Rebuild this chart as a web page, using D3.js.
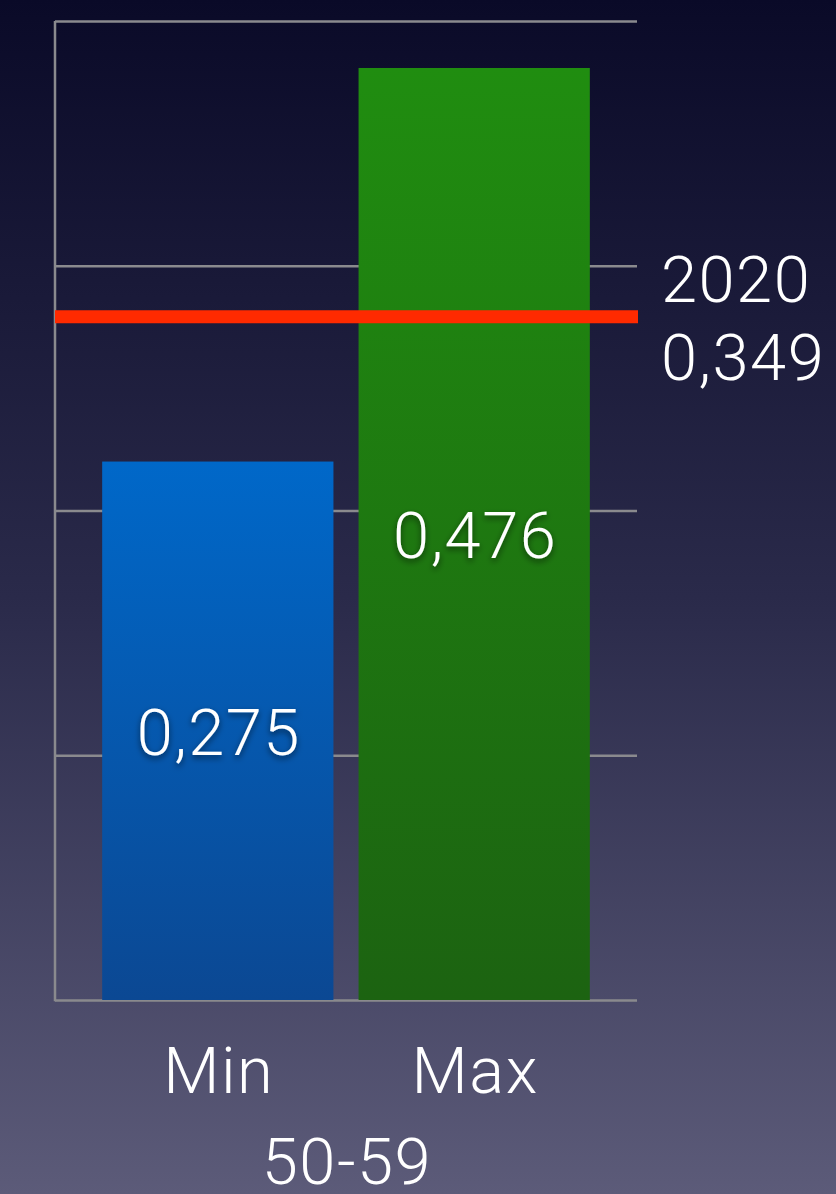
<!DOCTYPE html>
<html><head><meta charset="utf-8">
<script src="https://cdn.jsdelivr.net/npm/d3@7"></script>
<style>
html,body{margin:0;padding:0;background:#0c0c28;}
svg{display:block;}
text{font-family:"Roboto","Helvetica Neue",sans-serif;font-weight:300;fill:#fff;letter-spacing:1.5px;}
</style></head>
<body>
<script>
const categories = ["Min", "Max"];
const values = [0.275, 0.476];
const valueLabels = ["0,275", "0,476"];
const groupLabel = "50-59";
const refValue = 0.349;
const refLabels = ["2020", "0,349"];
const yTicks = [0, 0.125, 0.25, 0.375, 0.5];

const W = 836, H = 1194;
const svg = d3.select("body").append("svg").attr("width", W).attr("height", H);
const defs = svg.append("defs");

const bg = defs.append("linearGradient").attr("id","bg").attr("x1",0).attr("y1",0).attr("x2",0).attr("y2",1);
bg.append("stop").attr("offset","0%").attr("stop-color","#0a0a28");
bg.append("stop").attr("offset","50%").attr("stop-color","#2a2a4a");
bg.append("stop").attr("offset","100%").attr("stop-color","#5c5b79");

const gBlue = defs.append("linearGradient").attr("id","gBlue").attr("x1",0).attr("y1",0).attr("x2",0).attr("y2",1);
gBlue.append("stop").attr("offset","0%").attr("stop-color","#0068c9");
gBlue.append("stop").attr("offset","100%").attr("stop-color","#0b4893");
const gGreen = defs.append("linearGradient").attr("id","gGreen").attr("x1",0).attr("y1",0).attr("x2",0).attr("y2",1);
gGreen.append("stop").attr("offset","0%").attr("stop-color","#208d10");
gGreen.append("stop").attr("offset","100%").attr("stop-color","#1c6311");

const f = defs.append("filter").attr("id","sh").attr("x","-20%").attr("y","-30%").attr("width","140%").attr("height","160%");
f.append("feDropShadow").attr("dx",0).attr("dy",3).attr("stdDeviation",3).attr("flood-color","#000").attr("flood-opacity",0.55);

svg.append("rect").attr("width",W).attr("height",H).attr("fill","url(#bg)");

const x = d3.scaleBand().domain(categories).range([55, 637]).paddingInner(0.098).paddingOuter(0.184);
const y = d3.scaleLinear().domain([0, 0.5]).range([1000, 21]);

// gridlines
const grid = d3.axisLeft(y).tickValues(yTicks).tickSize(-(637-55)).tickFormat("");
const gg = svg.append("g").attr("transform","translate(55,0)").call(grid);
gg.select(".domain").remove();
gg.selectAll(".tick line").attr("stroke","#8a8a8e").attr("stroke-width",2.5);
svg.append("line").attr("x1",55).attr("x2",55).attr("y1",y(0.5)).attr("y2",y(0)+1.2)
  .attr("stroke","#8a8a8e").attr("stroke-width",2.5);

const fills = ["url(#gBlue)","url(#gGreen)"];
svg.selectAll("rect.bar").data(values).join("rect").attr("class","bar")
  .attr("x",(d,i)=>x(categories[i])).attr("width",x.bandwidth())
  .attr("y",d=>y(d)).attr("height",d=>y(0)-y(d)).attr("fill",(d,i)=>fills[i]);

// reference line
svg.append("line").attr("x1",55).attr("x2",638).attr("y1",y(refValue)).attr("y2",y(refValue))
  .attr("stroke","#ff2a00").attr("stroke-width",13);

svg.append("text").attr("x",661).attr("y",y(refValue)-15).attr("font-size",65).text(refLabels[0]);
svg.append("text").attr("x",661).attr("y",y(refValue)+63).attr("font-size",65).text(refLabels[1]);

// value labels
svg.selectAll("text.val").data(values).join("text").attr("class","val")
  .attr("x",(d,i)=>x(categories[i])+x.bandwidth()/2+1)
  .attr("y",d=>y(d)/2 + y(0)/2 + 24)
  .attr("text-anchor","middle").attr("font-size",65).attr("filter","url(#sh)")
  .text((d,i)=>valueLabels[i]);

// category labels
svg.selectAll("text.cat").data(categories).join("text").attr("class","cat")
  .attr("x",d=>x(d)+x.bandwidth()/2+1).attr("y",1093)
  .attr("text-anchor","middle").attr("font-size",65).text(d=>d);

svg.append("text").attr("x",(x("Min")+x("Max")+x.bandwidth())/2+1).attr("y",1184)
  .attr("text-anchor","middle").attr("font-size",65).text(groupLabel);
</script>
</body></html>
